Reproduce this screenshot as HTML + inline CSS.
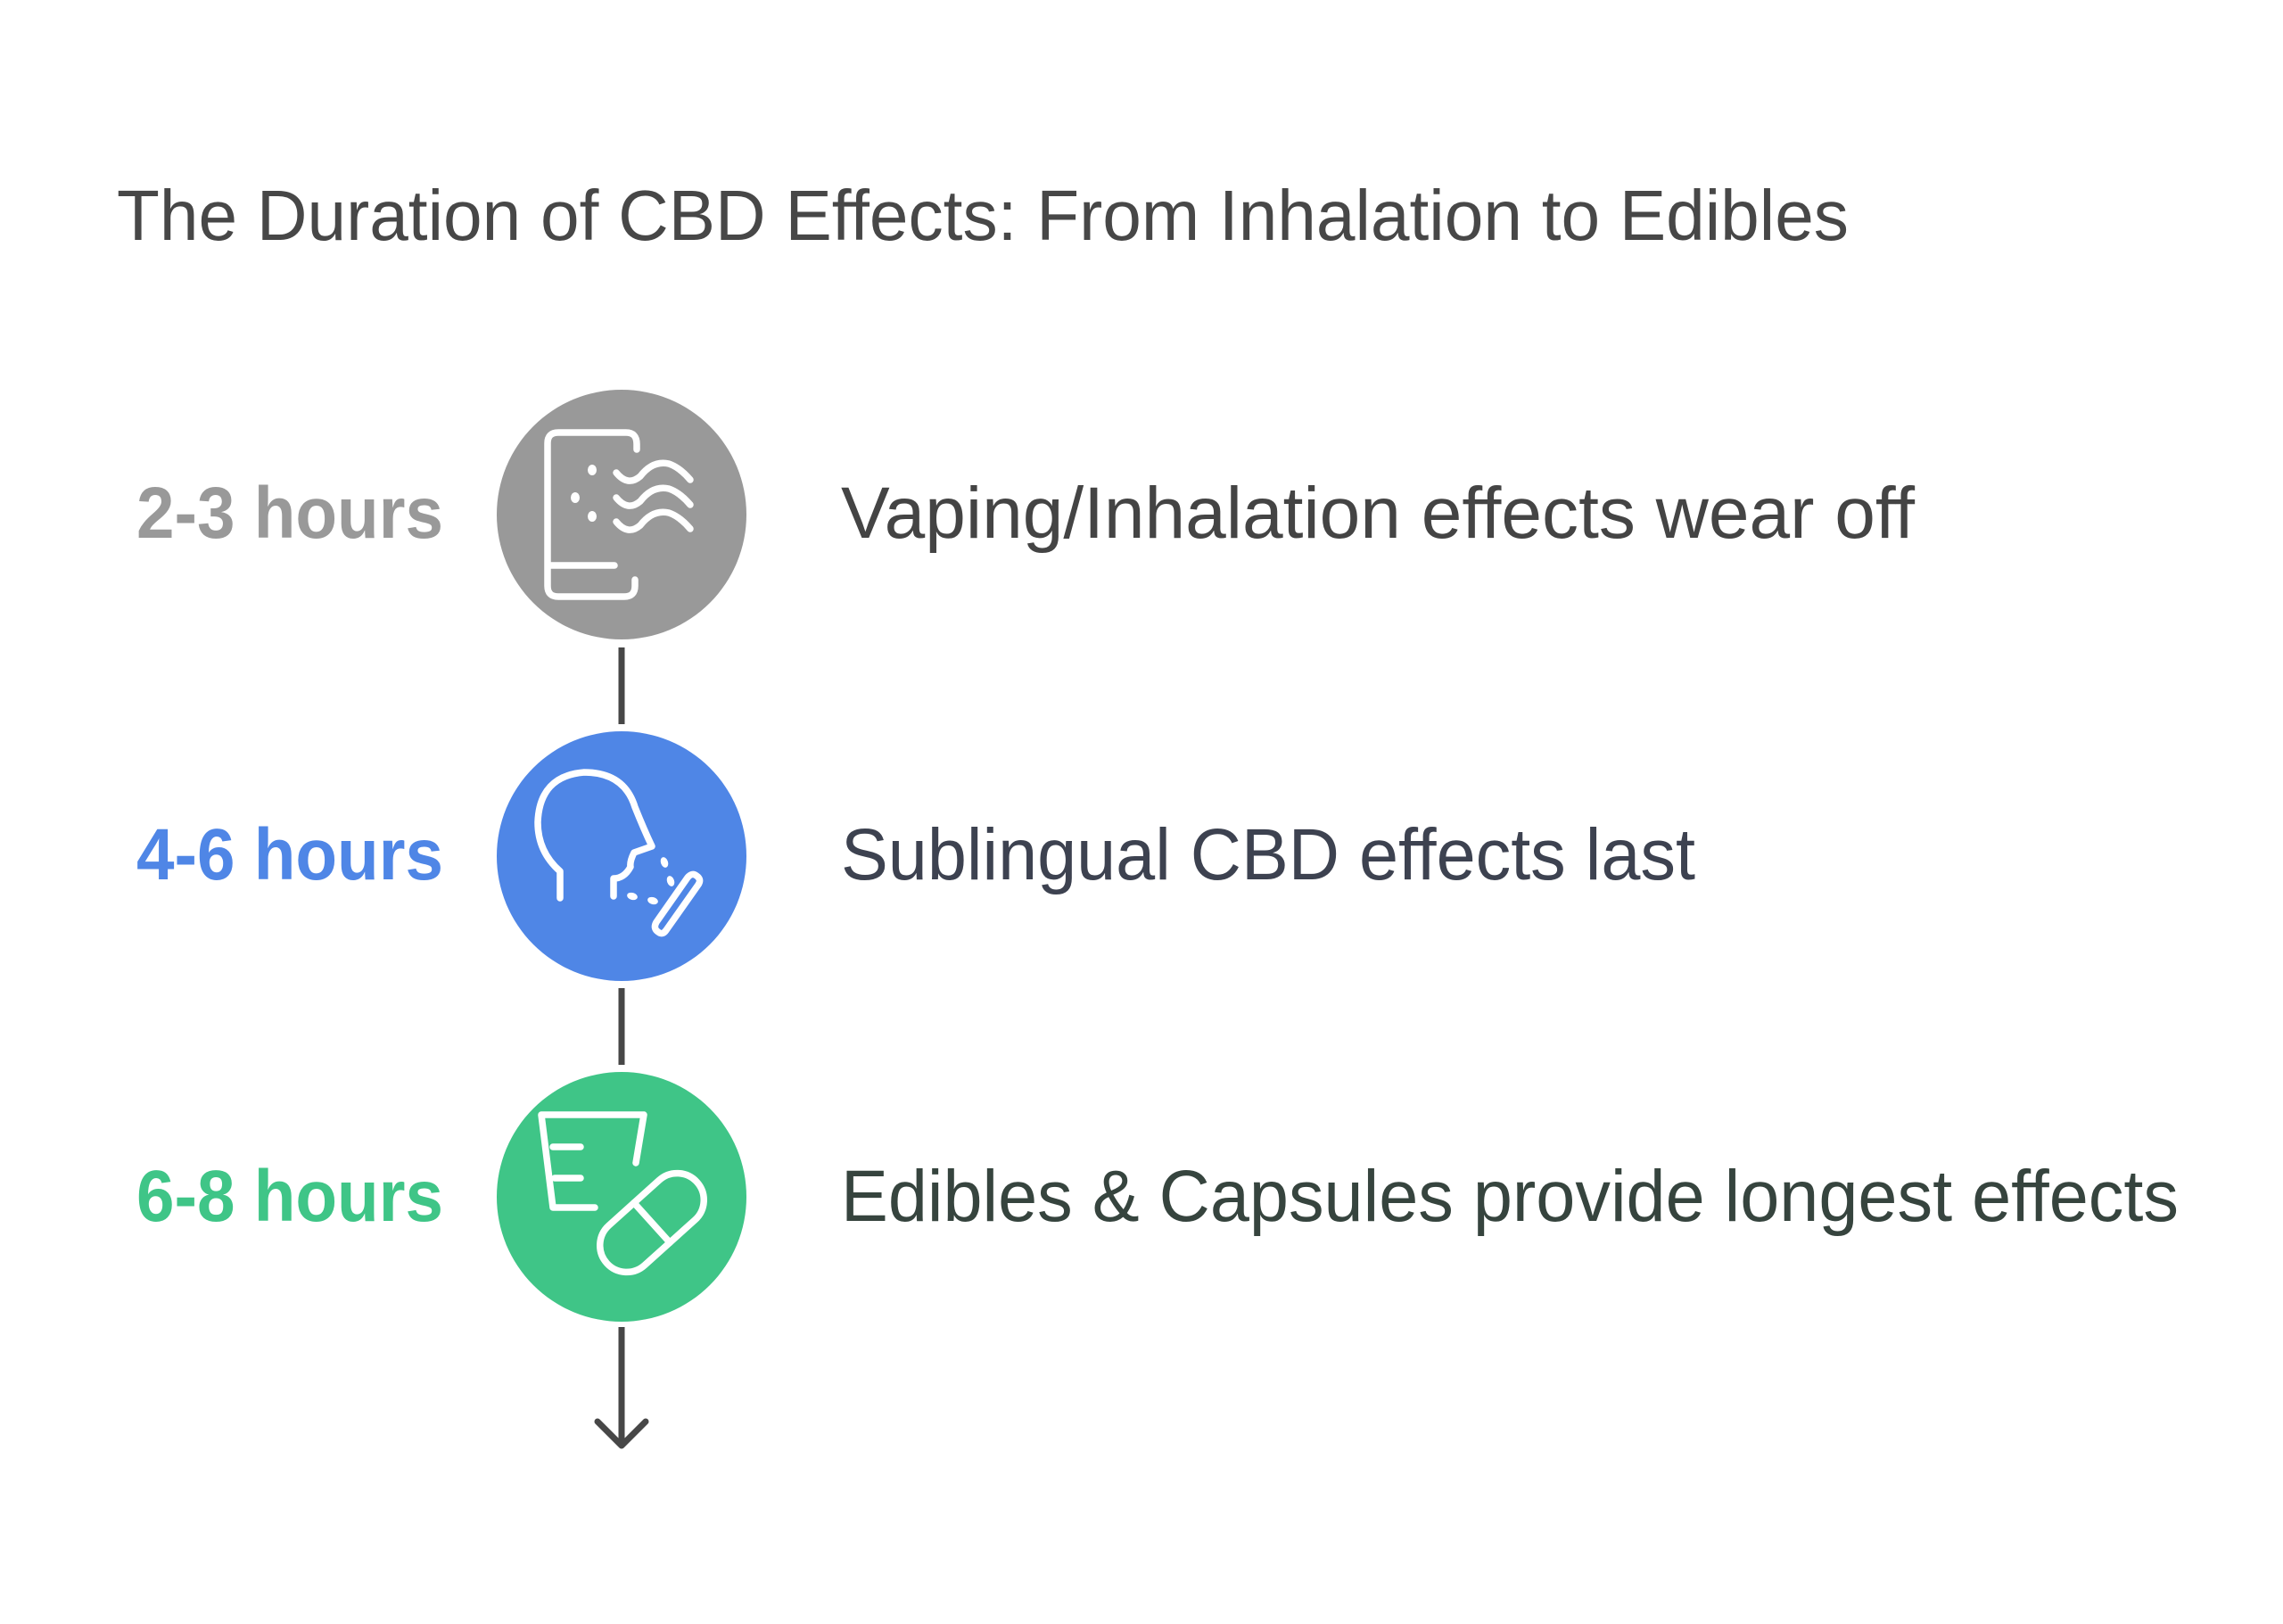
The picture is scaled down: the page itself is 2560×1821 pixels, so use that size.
<!DOCTYPE html>
<html><head><meta charset="utf-8"><style>
html,body{margin:0;padding:0;background:#fff}
svg{display:block}
text{font-family:"Liberation Sans",sans-serif}
</style></head><body>
<svg width="2560" height="1821" viewBox="0 0 2560 1821" xmlns="http://www.w3.org/2000/svg">
<rect width="2560" height="1821" fill="#fff"/>
<text x="131" y="269" font-size="80" fill="#474747" textLength="1942" lengthAdjust="spacingAndGlyphs">The Duration of CBD Effects: From Inhalation to Edibles</text>

<g stroke="#474747" stroke-width="7" fill="none" stroke-linecap="butt">
<line x1="697" y1="726" x2="697" y2="812"/>
<line x1="697" y1="1108" x2="697" y2="1194"/>
<line x1="697" y1="1488" x2="697" y2="1620"/>
<polyline points="670,1594 697,1621 724,1594" stroke-linecap="round" stroke-linejoin="round"/>
</g>

<circle cx="697" cy="577" r="140" fill="#999999"/>
<circle cx="697" cy="960" r="140" fill="#4f86e6"/>
<circle cx="697" cy="1342" r="140" fill="#3fc587"/>

<g stroke="#fff" stroke-width="7.5" fill="none" stroke-linecap="round" stroke-linejoin="round">
<path d="M714,504 V498 Q714,485 702,485 H626 Q614,485 614,497 V657 Q614,669 626,669 H700 Q712,669 712,657 V650"/>
<line x1="616" y1="634" x2="689" y2="634"/>
<path d="M691,530 Q704,546 718,534 Q732,516 750,520 Q762,524 774,538"/>
<path d="M691,558 Q704,574 718,562 Q732,544 750,548 Q762,552 774,566"/>
<path d="M691,585 Q704,601 718,589 Q732,571 750,575 Q762,579 774,593"/>
</g>
<g fill="#fff"><ellipse cx="664" cy="527" rx="5" ry="6"/><ellipse cx="645" cy="558" rx="5" ry="6"/><ellipse cx="664" cy="579" rx="5" ry="6"/></g>

<g stroke="#fff" stroke-width="7.5" fill="none" stroke-linecap="round" stroke-linejoin="round">
<path d="M628,1007 V977 Q603,955 603,922 Q605,870 655,866 Q700,866 712,905 Q722,930 731,949 L711,956 Q706,966 707,972 Q700,985 688,985 V1005"/>
<path d="M747,1043 L783,992 Q787,986 781,982 Q776,978 771,984 L736,1034 Q732,1041 738,1045 Q743,1049 747,1043 Z"/>
</g>
<g fill="#fff">
<ellipse cx="745" cy="967" rx="4" ry="6" transform="rotate(-20 745 967)"/>
<ellipse cx="752" cy="988" rx="4" ry="6" transform="rotate(-20 752 988)"/>
<ellipse cx="709" cy="1005" rx="6" ry="4" transform="rotate(15 709 1005)"/>
<ellipse cx="732" cy="1010" rx="6" ry="4" transform="rotate(15 732 1010)"/>
</g>

<g stroke="#fff" stroke-width="7.5" fill="none" stroke-linecap="round" stroke-linejoin="round">
<path d="M713,1304 L722,1250 H607 L620,1354 H667"/>
<line x1="620" y1="1286" x2="651" y2="1286"/>
<line x1="622" y1="1321" x2="651" y2="1321"/>
<g transform="translate(731 1371) rotate(-42)">
<rect x="-68" y="-30" width="136" height="60" rx="30"/>
<line x1="0" y1="-30" x2="0" y2="30"/>
</g>
</g>

<g font-size="82" font-weight="bold">
<text x="153" y="603" fill="#999999" textLength="344" lengthAdjust="spacingAndGlyphs">2-3 hours</text>
<text x="153" y="986" fill="#4f86e6" textLength="344" lengthAdjust="spacingAndGlyphs">4-6 hours</text>
<text x="153" y="1369" fill="#3fc587" textLength="344" lengthAdjust="spacingAndGlyphs">6-8 hours</text>
</g>
<g font-size="82">
<text x="943" y="603" fill="#444444" textLength="1204" lengthAdjust="spacingAndGlyphs">Vaping/Inhalation effects wear off</text>
<text x="943" y="986" fill="#3d4250" textLength="958" lengthAdjust="spacingAndGlyphs">Sublingual CBD effects last</text>
<text x="943" y="1369" fill="#36443e" textLength="1500" lengthAdjust="spacingAndGlyphs">Edibles &amp; Capsules provide longest effects</text>
</g>
</svg>
</body></html>
